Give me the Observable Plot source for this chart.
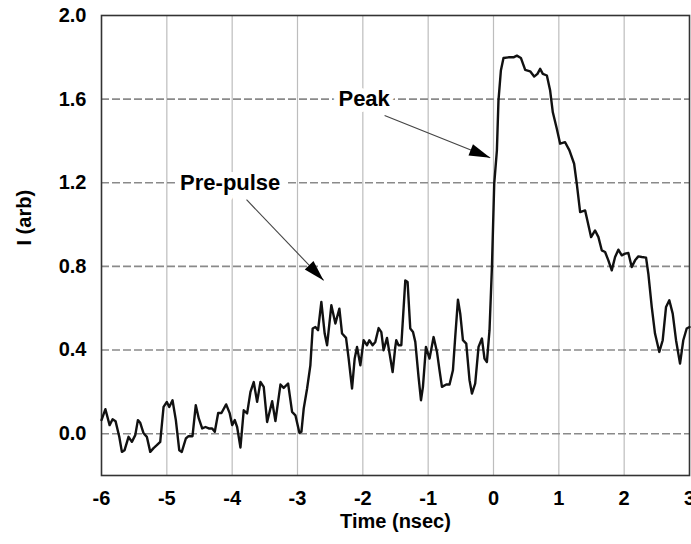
<!DOCTYPE html>
<html>
<head>
<meta charset="utf-8">
<script src="https://cdn.jsdelivr.net/npm/d3@7"></script>
<script src="https://cdn.jsdelivr.net/npm/@observablehq/plot@0.6"></script>
<style>
  html, body { margin: 0; padding: 0; background: #fff; }
  #chart svg { display: block; }
</style>
</head>
<body>
<div id="chart"></div>
<script>
// Time axis (nsec)
const time = [
  -6.000, -5.940, -5.876, -5.830, -5.785, -5.728, -5.688, -5.647, -5.586, -5.535,
  -5.483, -5.443, -5.407, -5.356, -5.306, -5.254, -5.203, -5.153, -5.101, -5.050,
  -5.000, -4.963, -4.913, -4.862, -4.810, -4.771, -4.709, -4.668, -4.607, -4.557,
  -4.511, -4.459, -4.408, -4.358, -4.306, -4.266, -4.214, -4.164, -4.092, -4.037,
  -4.000, -3.960, -3.924, -3.873, -3.823, -3.771, -3.720, -3.670, -3.618, -3.567,
  -3.517, -3.465, -3.388, -3.338, -3.261, -3.211, -3.144, -3.083, -3.032, -2.971,
  -2.940, -2.905, -2.853, -2.803, -2.768, -2.726, -2.685, -2.635, -2.584, -2.547,
  -2.482, -2.420, -2.359, -2.318, -2.257, -2.217, -2.165, -2.125, -2.089, -2.038,
  -1.988, -1.936, -1.901, -1.850, -1.809, -1.758, -1.717, -1.682, -1.630, -1.595,
  -1.544, -1.503, -1.488, -1.453, -1.411, -1.350, -1.315, -1.274, -1.232, -1.197,
  -1.147, -1.110, -1.080, -1.034, -0.979, -0.917, -0.865, -0.826, -0.789, -0.723,
  -0.673, -0.621, -0.586, -0.544, -0.509, -0.468, -0.417, -0.367, -0.330, -0.280,
  -0.229, -0.177, -0.138, -0.101, -0.061, -0.024, 0.011, 0.052, 0.076, 0.113,
  0.153, 0.229, 0.306, 0.358, 0.419, 0.485, 0.561, 0.622, 0.673, 0.714,
  0.755, 0.817, 0.867, 0.908, 0.969, 1.020, 1.096, 1.162, 1.234, 1.275,
  1.326, 1.402, 1.437, 1.494, 1.555, 1.606, 1.657, 1.708, 1.758, 1.810,
  1.861, 1.911, 1.963, 2.014, 2.064, 2.116, 2.167, 2.217, 2.269, 2.335,
  2.370, 2.422, 2.472, 2.538, 2.590, 2.641, 2.691, 2.743, 2.794, 2.855,
  2.905, 2.957, 3.000
];
// Intensity (arb)
const intensity = [
  0.065, 0.117, 0.041, 0.069, 0.060, -0.015, -0.087, -0.079, -0.015, -0.039,
  -0.007, 0.065, 0.052, 0.002, -0.015, -0.087, -0.069, -0.055, -0.039, 0.128,
  0.152, 0.128, 0.160, 0.065, -0.079, -0.087, -0.023, -0.012, -0.012, 0.136,
  0.073, 0.025, 0.032, 0.025, 0.025, 0.009, 0.099, 0.099, 0.140, 0.097,
  0.041, 0.065, 0.032, -0.066, 0.112, 0.097, 0.200, 0.247, 0.152, 0.247,
  0.224, 0.056, 0.155, 0.060, 0.235, 0.219, 0.240, 0.104, 0.088, 0.004,
  0.009, 0.120, 0.216, 0.327, 0.503, 0.510, 0.495, 0.630, 0.479, 0.423,
  0.614, 0.527, 0.598, 0.479, 0.458, 0.359, 0.216, 0.359, 0.415, 0.327,
  0.447, 0.423, 0.447, 0.423, 0.439, 0.505, 0.486, 0.399, 0.458, 0.391,
  0.295, 0.415, 0.447, 0.423, 0.423, 0.733, 0.725, 0.503, 0.486, 0.439,
  0.271, 0.160, 0.224, 0.415, 0.359, 0.462, 0.391, 0.303, 0.224, 0.235,
  0.235, 0.303, 0.462, 0.641, 0.574, 0.447, 0.431, 0.256, 0.192, 0.240,
  0.415, 0.455, 0.359, 0.343, 0.495, 0.797, 1.195, 1.355, 1.593, 1.737,
  1.797, 1.800, 1.800, 1.808, 1.797, 1.740, 1.733, 1.708, 1.721, 1.745,
  1.721, 1.713, 1.641, 1.537, 1.458, 1.387, 1.394, 1.355, 1.291, 1.195,
  1.060, 1.068, 1.020, 0.940, 0.972, 0.940, 0.877, 0.869, 0.829, 0.781,
  0.845, 0.880, 0.853, 0.861, 0.864, 0.797, 0.829, 0.848, 0.845, 0.842,
  0.765, 0.606, 0.479, 0.391, 0.447, 0.606, 0.638, 0.574, 0.447, 0.335,
  0.447, 0.503, 0.510
];
const xTicks = [-6, -5, -4, -3, -2, -1, 0, 1, 2, 3];
const yTicks = [0.0, 0.4, 0.8, 1.2, 1.6, 2.0];
const xLabel = "Time (nsec)";
const yLabel = "I (arb)";

// Annotations
const noteText = ["Pre-pulse", "Peak"];
const noteX = [-4.03, -1.98];
const noteY = [1.2, 1.6];
const arrowX1 = [-3.78, -1.667];
const arrowY1 = [1.119, 1.522];
const arrowX2 = [-2.60, -0.05];
const arrowY2 = [0.733, 1.32];

const series = time.map((t, i) => ({t, v: intensity[i]}));
const notes = noteText.map((s, i) => ({s, x: noteX[i], y: noteY[i]}));
const arrows = arrowX1.map((x1, i) => ({x1, y1: arrowY1[i], x2: arrowX2[i], y2: arrowY2[i]}));

const font = "'Liberation Sans', Arial, Helvetica, sans-serif";

const chart = Plot.plot({
  width: 691,
  height: 544,
  marginLeft: 101,
  marginRight: 2,
  marginTop: 15,
  marginBottom: 69,
  style: {fontFamily: font, fontSize: "20px", fontWeight: "bold", color: "#000", background: "#fff", overflow: "visible"},
  x: {domain: [-6, 3], ticks: xTicks},
  y: {domain: [-0.2, 2.0], ticks: yTicks},
  marks: [
    Plot.ruleX(xTicks.slice(1, -1), {stroke: "#bdbdbd", strokeWidth: 1.2}),
    Plot.ruleY(yTicks.slice(0, -1), {stroke: "#8a8a8a", strokeWidth: 1.6, strokeDasharray: "8,3"}),
    Plot.frame({stroke: "#333", strokeWidth: 1.6}),
    Plot.axisX(xTicks, {tickSize: 0, tickPadding: 15, tickFormat: d => String(d), label: null, fontSize: 20, fontWeight: "bold"}),
    Plot.axisY(yTicks, {tickSize: 0, tickPadding: 15, tickFormat: d => d.toFixed(1), label: null, fontSize: 20, fontWeight: "bold"}),
    Plot.line(series, {x: "t", y: "v", stroke: "#111", strokeWidth: 2.4, strokeLinejoin: "round"}),
    Plot.link(arrows, {x1: "x1", y1: "y1", x2: "x2", y2: "y2", stroke: "#444", strokeWidth: 1.1}),
    Plot.text(notes, {x: "x", y: "y", text: "s", fill: "#000", stroke: "#fff", strokeWidth: 12, fontSize: 22, fontWeight: "bold"}),
    Plot.text([xLabel], {frameAnchor: "bottom", dy: 52, fontSize: 20, fontWeight: "bold"}),
    Plot.text([yLabel], {frameAnchor: "left", dx: -77, rotate: -90, fontSize: 20, fontWeight: "bold"})
  ]
});

// Add filled arrowheads at the end of each link, using the positions Plot computed
const ns = "http://www.w3.org/2000/svg";
chart.querySelectorAll("g[aria-label='link'] path").forEach(p => {
  const nums = (p.getAttribute("d") || "").match(/-?\d*\.?\d+(e-?\d+)?/g);
  if (!nums || nums.length < 4) return;
  const n = nums.map(Number);
  const x1 = n[0], y1 = n[1], x2 = n[n.length - 2], y2 = n[n.length - 1];
  const dx = x2 - x1, dy = y2 - y1, L = Math.hypot(dx, dy);
  const ux = dx / L, uy = dy / L, px = -uy, py = ux;
  const len = 21, w = 6;
  const bx = x2 - ux * len, by = y2 - uy * len;
  const poly = document.createElementNS(ns, "polygon");
  poly.setAttribute("points", `${x2},${y2} ${bx + px * w},${by + py * w} ${bx - px * w},${by - py * w}`);
  poly.setAttribute("fill", "#000");
  poly.setAttribute("stroke", "none");
  p.parentNode.appendChild(poly);
});

document.getElementById("chart").appendChild(chart);
</script>
</body>
</html>
